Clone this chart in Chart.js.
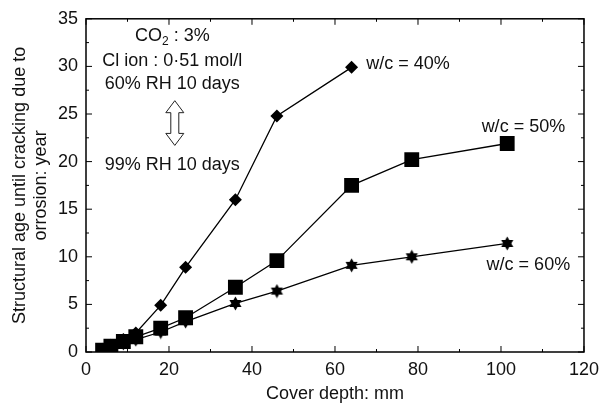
<!DOCTYPE html>
<html>
<head>
<meta charset="utf-8">
<script src="https://cdn.jsdelivr.net/npm/chart.js@4"></script>
<style>
  html, body { margin: 0; padding: 0; background: #fff; }
  #wrap { width: 606px; height: 409px; }
</style>
</head>
<body>
<div id="wrap"><canvas id="chart"></canvas></div>
<script>
// cover depth (mm)
const coverDepth = [4, 6, 9, 12, 18, 24, 36, 46, 64, 78.5, 101.5];
// structural age until cracking (year)
const wc40 = [0.3, 0.7, 1.3, 2.0, 4.9, 8.9, 16.0, 24.8, 29.9];
const wc50 = [0.2, 0.6, 1.1, 1.6, 2.5, 3.6, 6.8, 9.6, 17.5, 20.2, 21.9];
const wc60 = [0.1, 0.5, 0.9, 1.3, 2.1, 3.2, 5.1, 6.4, 9.1, 10.0, 11.4];
const seriesNames = ['w/c = 40%', 'w/c = 50%', 'w/c = 60%'];

const FONT = '"Liberation Sans", Arial, Helvetica, sans-serif';

// six-pointed star marker
function makeStar(size) {
  const c = document.createElement('canvas');
  c.width = size; c.height = size;
  const g = c.getContext('2d');
  const cx = size / 2, cy = size / 2, r = size / 2 - 0.5;
  g.fillStyle = '#000';
  [-Math.PI / 2, Math.PI / 2].forEach(a0 => {
    g.beginPath();
    for (let i = 0; i < 3; i++) {
      const a = a0 + i * 2 * Math.PI / 3;
      const px = cx + r * Math.cos(a), py = cy + r * Math.sin(a);
      if (i === 0) g.moveTo(px, py); else g.lineTo(px, py);
    }
    g.closePath();
    g.fill();
  });
  return c;
}
const starImg = makeStar(15);

const toPoints = ys => ys.map((y, i) => ({ x: coverDepth[i], y }));

// text notes placed in data units
const notes = [
  { text: 'Cl ion : 0\u00b751 mol/l', x: 20.8, y: 30.6 },
  { text: '60% RH 10 days', x: 20.8, y: 28.2 },
  { text: '99% RH 10 days', x: 20.8, y: 19.6 },
  { text: seriesNames[0], x: 77.6, y: 30.3 },
  { text: seriesNames[1], x: 105.4, y: 23.6 },
  { text: seriesNames[2], x: 106.6, y: 9.1 }
];

const framePlugin = {
  id: 'frame',
  afterDraw(chart) {
    const { ctx, chartArea: a, scales: { x, y } } = chart;
    ctx.save();
    ctx.strokeStyle = '#000';
    ctx.lineWidth = 1.5;
    ctx.strokeRect(a.left, a.top, a.right - a.left, a.bottom - a.top);

    // inward ticks on all four sides
    ctx.lineWidth = 1;
    ctx.beginPath();
    for (let v = 0; v <= 120; v += 10) {
      const px = x.getPixelForValue(v);
      const len = v % 20 === 0 ? 6 : 3;
      ctx.moveTo(px, a.bottom); ctx.lineTo(px, a.bottom - len);
      ctx.moveTo(px, a.top); ctx.lineTo(px, a.top + len);
    }
    for (let v = 0; v <= 35; v += 2.5) {
      const py = y.getPixelForValue(v);
      const len = v % 5 === 0 ? 6 : 3;
      ctx.moveTo(a.left, py); ctx.lineTo(a.left + len, py);
      ctx.moveTo(a.right, py); ctx.lineTo(a.right - len, py);
    }
    ctx.stroke();

    // notes
    ctx.fillStyle = '#111';
    ctx.font = '18px ' + FONT;
    ctx.textAlign = 'center';
    ctx.textBaseline = 'middle';
    notes.forEach(n => ctx.fillText(n.text, x.getPixelForValue(n.x), y.getPixelForValue(n.y)));

    // CO2 line with subscript
    const cx = x.getPixelForValue(20.8), cy = y.getPixelForValue(33.2);
    const sub = '2';
    ctx.font = '18px ' + FONT;
    const w1 = ctx.measureText('CO').width;
    const w3 = ctx.measureText(' : 3%').width;
    ctx.font = '12px ' + FONT;
    const w2 = ctx.measureText(sub).width;
    let sx = cx - (w1 + w2 + w3) / 2;
    ctx.textAlign = 'left';
    ctx.font = '18px ' + FONT;
    ctx.fillText('CO', sx, cy);
    ctx.font = '12px ' + FONT;
    ctx.fillText(sub, sx + w1, cy + 6);
    ctx.font = '18px ' + FONT;
    ctx.fillText(' : 3%', sx + w1 + w2, cy);

    // hollow double arrow
    const ax = x.getPixelForValue(21.4);
    const top = y.getPixelForValue(26.4), bot = y.getPixelForValue(21.7);
    const sw = 4, hw = 9, hh = 12;
    ctx.beginPath();
    ctx.moveTo(ax, top);
    ctx.lineTo(ax + hw, top + hh);
    ctx.lineTo(ax + sw, top + hh);
    ctx.lineTo(ax + sw, bot - hh);
    ctx.lineTo(ax + hw, bot - hh);
    ctx.lineTo(ax, bot);
    ctx.lineTo(ax - hw, bot - hh);
    ctx.lineTo(ax - sw, bot - hh);
    ctx.lineTo(ax - sw, top + hh);
    ctx.lineTo(ax - hw, top + hh);
    ctx.closePath();
    ctx.fillStyle = '#fff';
    ctx.fill();
    ctx.strokeStyle = '#222';
    ctx.lineWidth = 1;
    ctx.stroke();
    ctx.restore();
  }
};

const common = {
  showLine: true,
  borderColor: '#000',
  backgroundColor: '#000',
  borderWidth: 1.3,
  pointBorderColor: '#000',
  pointBackgroundColor: '#000',
  pointBorderWidth: 0
};

new Chart(document.getElementById('chart'), {
  type: 'scatter',
  data: {
    datasets: [
      { ...common, label: seriesNames[0], data: toPoints(wc40), pointStyle: 'rectRot', pointRadius: 6.5 },
      { ...common, label: seriesNames[1], data: toPoints(wc50), pointStyle: 'rect', pointRadius: 10.5 },
      { ...common, label: seriesNames[2], data: toPoints(wc60), pointStyle: starImg, pointRadius: 7 }
    ]
  },
  options: {
    responsive: true,
    maintainAspectRatio: false,
    animation: false,
    layout: { padding: { top: 17, right: 14, left: 0, bottom: 0 } },
    plugins: { legend: { display: false }, tooltip: { enabled: false } },
    scales: {
      x: {
        type: 'linear',
        min: 0, max: 120,
        afterFit(s) { s.height = 57; },
        grid: { display: false, drawTicks: false },
        border: { display: false },
        ticks: { stepSize: 20, padding: 7, color: '#111', font: { family: FONT, size: 18 } },
        title: { display: true, text: 'Cover depth: mm', color: '#111', padding: { top: 2 }, font: { family: FONT, size: 18 } }
      },
      y: {
        type: 'linear',
        min: 0, max: 35,
        afterFit(s) { s.width = 86; },
        grid: { display: false, drawTicks: false },
        border: { display: false },
        ticks: { stepSize: 5, padding: 8, color: '#111', font: { family: FONT, size: 18 } },
        title: {
          display: true,
          text: ['Structural age until cracking due to', 'orrosion: year'],
          color: '#111',
          padding: { top: 9, bottom: 0 },
          font: { family: FONT, size: 18, lineHeight: 1.2 }
        }
      }
    }
  },
  plugins: [framePlugin]
});
</script>
</body>
</html>
